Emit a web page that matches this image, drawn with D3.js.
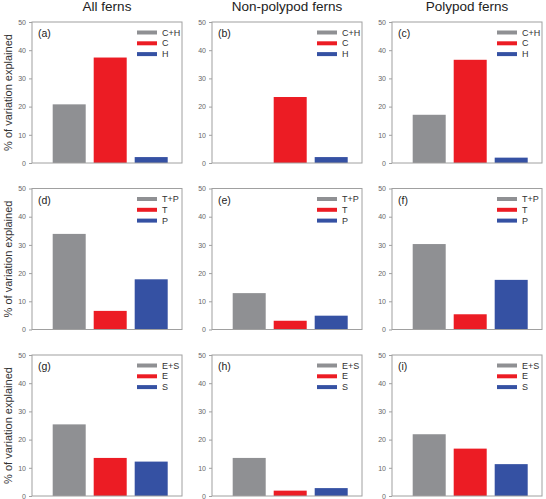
<!DOCTYPE html>
<html>
<head>
<meta charset="utf-8">
<script src="https://cdn.jsdelivr.net/npm/d3@7"></script>
<style>
	body { margin: 0; background: #fff; }
	text { font-family: Arial, "Liberation Sans", sans-serif; }
</style>
</head>
<body>
<svg id="chart" width="546" height="499"></svg>
<script>
// column titles and panel letters
var groups = ["All ferns", "Non-polypod ferns", "Polypod ferns"];
var panelLabels = [["(a)", "(b)", "(c)"], ["(d)", "(e)", "(f)"], ["(g)", "(h)", "(i)"]];

// legend entries per row (shared, then the two single fractions)
var rowKeys = [["C+H", "C", "H"], ["T+P", "T", "P"], ["E+S", "E", "S"]];

// % of variation explained, one array per row, [group][shared, first, second]
var climateHabitat = [[20.8, 37.4, 2.1], [0, 23.4, 2.1], [17.1, 36.6, 1.9]];
var tempPrecip     = [[33.9, 6.6, 17.8], [12.9, 3.1, 4.9], [30.3, 5.4, 17.6]];
var envSpace       = [[25.4, 13.5, 12.2], [13.5, 1.9, 2.8], [21.9, 16.8, 11.3]];
var rows = [climateHabitat, tempPrecip, envSpace];

var yTicks = [0, 10, 20, 30, 40, 50];
var barColors = ["#8f9093", "#ec1c24", "#3551a3"];

var svg = d3.select("#chart");
var panelW = 150, panelH = 141;
var colX = [32, 212, 392];
var rowY = [22, 188.5, 355];

var y = d3.scaleLinear().domain([0, 50]).range([panelH, 0]);
var x = d3.scaleBand().domain([0, 1, 2]).range([20.7, 135.7]).paddingInner(0.195).paddingOuter(0);

// column titles
groups.forEach(function(g, c) {
	svg.append("text")
		.attr("x", colX[c] + panelW / 2)
		.attr("y", 11)
		.attr("text-anchor", "middle")
		.style("font-size", "13.5px")
		.style("fill", "#222")
		.text(g);
});

rows.forEach(function(rowData, r) {
	// y axis title on first column only
	svg.append("text")
		.attr("transform", "translate(12," + (rowY[r] + panelH / 2) + ") rotate(-90)")
		.attr("text-anchor", "middle")
		.style("font-size", "11px")
		.style("fill", "#333")
		.text("% of variation explained");

	rowData.forEach(function(vals, c) {
		var g = svg.append("g")
			.attr("transform", "translate(" + colX[c] + "," + rowY[r] + ")");

		g.selectAll("rect.bar")
			.data(vals)
			.enter().append("rect")
			.attr("class", "bar")
			.attr("x", function(d, i) { return x(i); })
			.attr("width", x.bandwidth())
			.attr("y", function(d) { return y(d); })
			.attr("height", function(d) { return panelH - y(d); })
			.style("fill", function(d, i) { return barColors[i]; });

		// frame
		g.append("rect")
			.attr("width", panelW)
			.attr("height", panelH)
			.style("fill", "none")
			.style("stroke", "#a0a0a0")
			.style("stroke-width", 1);

		var axis = g.append("g")
			.call(d3.axisLeft(y).tickValues(yTicks).tickSize(3).tickPadding(3));
		axis.select(".domain").remove();
		axis.selectAll("line").style("stroke", "#a0a0a0");
		axis.selectAll("text")
			.style("font-size", "7px")
			.style("fill", "#666")
			.style("font-family", "Arial, 'Liberation Sans', sans-serif");

		g.append("text")
			.attr("x", 6)
			.attr("y", 15)
			.style("font-size", "10.5px")
			.style("fill", "#222")
			.text(panelLabels[r][c]);

		// legend
		var leg = g.selectAll("g.leg")
			.data(rowKeys[r])
			.enter().append("g")
			.attr("class", "leg")
			.attr("transform", function(d, i) { return "translate(105," + (10.5 + i * 10.8) + ")"; });
		leg.append("line")
			.attr("x1", 0).attr("x2", 20)
			.style("stroke", function(d, i) { return barColors[i]; })
			.style("stroke-width", 4);
		leg.append("text")
			.attr("x", 25)
			.attr("dy", "0.35em")
			.style("font-size", "9px")
			.style("fill", "#333")
			.text(function(d) { return d; });
	});
});
</script>
</body>
</html>
